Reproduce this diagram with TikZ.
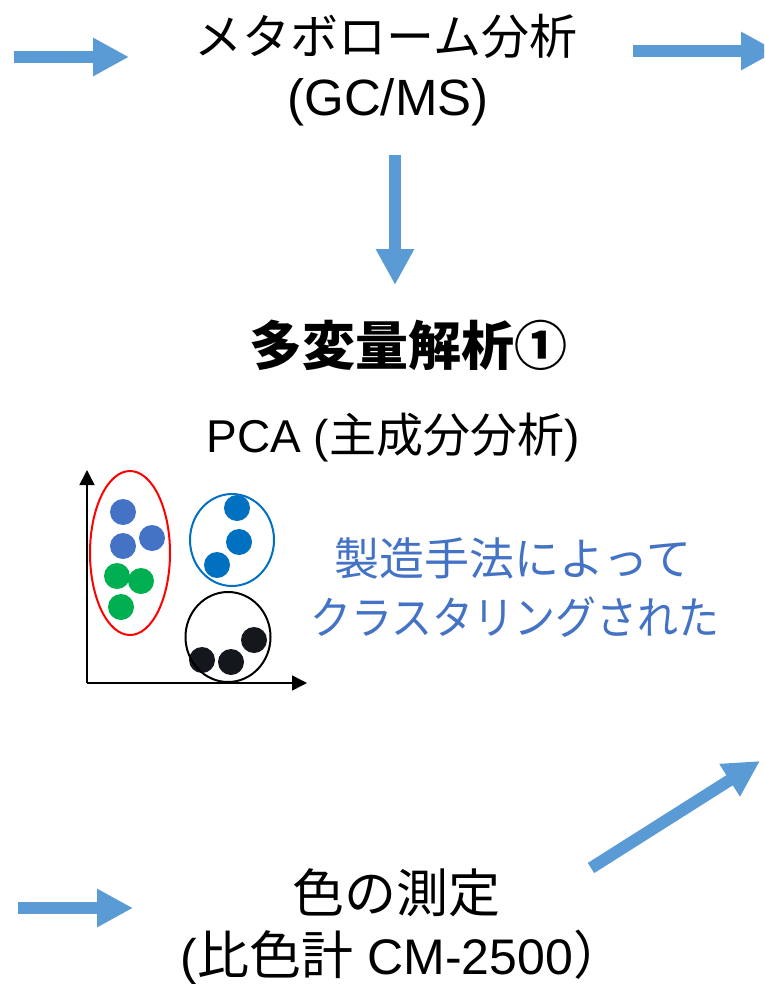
\documentclass[tikz,border=0pt]{standalone}
\usepackage{graphicx}
\usepackage{fontspec}
\setmainfont{Liberation Sans}
\newfontfamily\jp{Noto Sans CJK JP}
\usetikzlibrary{arrows.meta}
\definecolor{arrowblue}{HTML}{5B9BD5}
\definecolor{txtblue}{HTML}{4472C4}
\definecolor{dotblue}{HTML}{4472C4}
\definecolor{dotgreen}{HTML}{00B050}
\definecolor{dotdark}{HTML}{0070C0}
\definecolor{dotblack}{HTML}{14171B}
\definecolor{ringred}{HTML}{FF0000}
\newcommand\fs[1]{\fontsize{#1}{#1}\selectfont}
\begin{document}
\begin{tikzpicture}[x=1pt,y=-1pt,
  bigarrow/.style={line width=12pt, draw=arrowblue, -{Triangle[length=36pt,width=36pt]}},
  lbl/.style={anchor=base, inner sep=0pt, outer sep=0pt},
  dot/.style={circle, fill=#1, minimum size=26pt, inner sep=0pt},
  axisline/.style={line width=1.5pt, black, -{Triangle[length=15pt,width=15pt]}},
  ring/.style={draw=#1, line width=2pt}
]
\useasboundingbox (0,0) rectangle (764,984);
\clip (0,0) rectangle (764,984);

% ---- texts ----
\node[lbl] (title) at (386,55) {\jp\fs{48}メタボローム分析};
\node[lbl] (gcms) at (388,116) {\fs{51}(GC/MS)};
\node[lbl] (mva) at (408,365) {\jp\bfseries\fs{53}多変量解析①};
\node[lbl] (pca) at (393,452) {{\fs{46}PCA (}{\jp\fs{47}主成分分析}{\fs{46})}};
\node[lbl, text=txtblue] (note1) at (513,575) {\jp\fs{45}製造手法によって};
\node[lbl, text=txtblue] (note2) at (515,634) {\scalebox{0.91}[1]{\jp\fs{45}クラスタリングされた}};
\node[lbl] (color) at (396,912) {\jp\fs{52}色の測定};
\node[lbl] (meter) at (403,974) {{\fs{50}(}{\jp\fs{52}比色計}{\fs{50}~CM-2500}{\jp\fs{52}）}};

% ---- block arrows ----
\coordinate (a1s) at (14,57);   \coordinate (a1e) at (129,57);
\coordinate (a2s) at (633,51);  \coordinate (a2e) at (777,51);
\coordinate (a3s) at (395,155); \coordinate (a3e) at (395,285);
\coordinate (a4s) at (18,908);  \coordinate (a4e) at (133,908);
\coordinate (a5s) at (591,868); \coordinate (a5e) at (760,761);
\draw[bigarrow] (a1s) -- (a1e);
\draw[bigarrow] (a2s) -- (a2e);
\draw[bigarrow] (a3s) -- (a3e);
\draw[bigarrow] (a4s) -- (a4e);
\draw[bigarrow] (a5s) -- (a5e);

% ---- scatter plot ----
\coordinate (origin) at (87,683);
\coordinate (ytip) at (87,470);
\coordinate (xtip) at (307,683);
\draw[axisline] (origin) -- (ytip);
\draw[axisline] (origin) -- (xtip);

\node[dot=dotblue] (d1) at (123,512) {};
\node[dot=dotblue] (d2) at (123,546) {};
\node[dot=dotblue] (d3) at (152,538) {};
\node[dot=dotgreen] (d4) at (117,576) {};
\node[dot=dotgreen] (d5) at (141,581) {};
\node[dot=dotgreen] (d6) at (121,607) {};
\node[dot=dotdark] (d7) at (237,508) {};
\node[dot=dotdark] (d8) at (239,542) {};
\node[dot=dotdark] (d9) at (217,565) {};
\node[dot=dotblack] (d10) at (202,660) {};
\node[dot=dotblack] (d11) at (231,662) {};
\node[dot=dotblack] (d12) at (254,640) {};

\coordinate (c1) at (130,553);
\coordinate (c2) at (232,540);
\coordinate (c3) at (228,637);
\draw[ring=ringred] (c1) ellipse [x radius=40pt, y radius=82pt];
\draw[ring=dotdark] (c2) ellipse [x radius=42pt, y radius=46pt];
\draw[ring=black] (c3) ellipse [x radius=42.5pt, y radius=45pt];
\end{tikzpicture}
\end{document}
